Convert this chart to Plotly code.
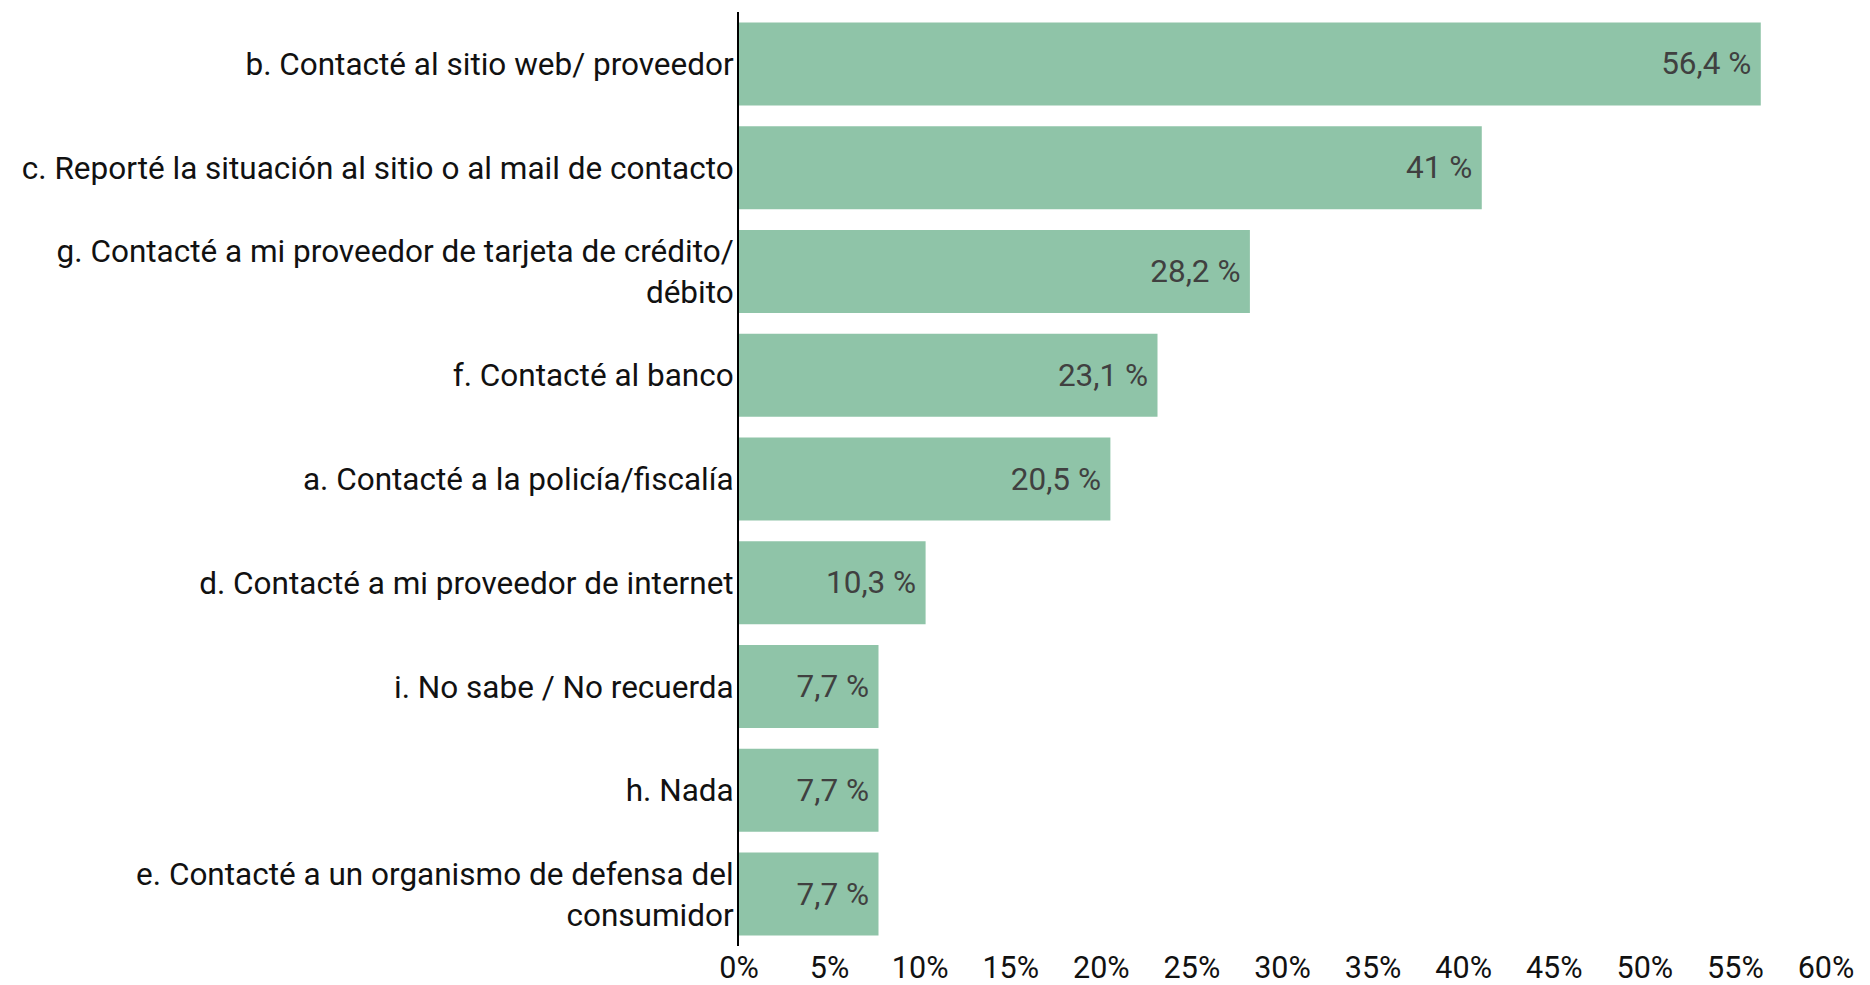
import plotly.graph_objects as go

# Responses, listed top to bottom
categories = [
    "b. Contacté al sitio web/ proveedor",
    "c. Reporté la situación al sitio o al mail de contacto",
    "g. Contacté a mi proveedor de tarjeta de crédito/<br>débito",
    "f. Contacté al banco",
    "a. Contacté a la policía/fiscalía",
    "d. Contacté a mi proveedor de internet",
    "i. No sabe / No recuerda",
    "h. Nada",
    "e. Contacté a un organismo de defensa del<br>consumidor",
]
values = [56.4, 41, 28.2, 23.1, 20.5, 10.3, 7.7, 7.7, 7.7]

tick_vals = [0, 5, 10, 15, 20, 25, 30, 35, 40, 45, 50, 55, 60]
tick_text = [f"{v}%" for v in tick_vals]

# value labels with a thin trailing space to keep them off the bar end
labels = [f"{v:g}".replace(".", ",") + " %\u2009" for v in values]

W, H = 1870, 985
L, R, T, B = 739, 44, 12, 39

fig = go.Figure(
    go.Bar(
        x=values,
        y=categories,
        orientation="h",
        marker=dict(color="#8fc4a8", line=dict(width=0)),
        text=labels,
        textposition="inside",
        insidetextanchor="end",
        textfont=dict(family="Roboto", size=31.5, color="#404040"),
        cliponaxis=False,
    )
)

fig.update_layout(
    width=W,
    height=H,
    margin=dict(l=L, r=R, t=T, b=B, autoexpand=False),
    plot_bgcolor="white",
    paper_bgcolor="white",
    bargap=0.2,
    showlegend=False,
    font=dict(family="Roboto", size=31, color="#111111"),
    uniformtext=dict(mode=False),
)

fig.update_xaxes(
    range=[0, 60],
    tickvals=tick_vals,
    ticktext=tick_text,
    showgrid=False,
    zeroline=False,
    showline=False,
    ticks="",
    tickfont=dict(family="Roboto", size=30.5, color="#111111"),
)

fig.update_yaxes(
    autorange="reversed",
    showgrid=False,
    zeroline=False,
    showline=True,
    linecolor="black",
    linewidth=2,
    ticks="",
    ticklabelstandoff=-3,
    tickfont=dict(family="Roboto", size=31.5, color="#111111"),
)

fig.write_html("out.html")
